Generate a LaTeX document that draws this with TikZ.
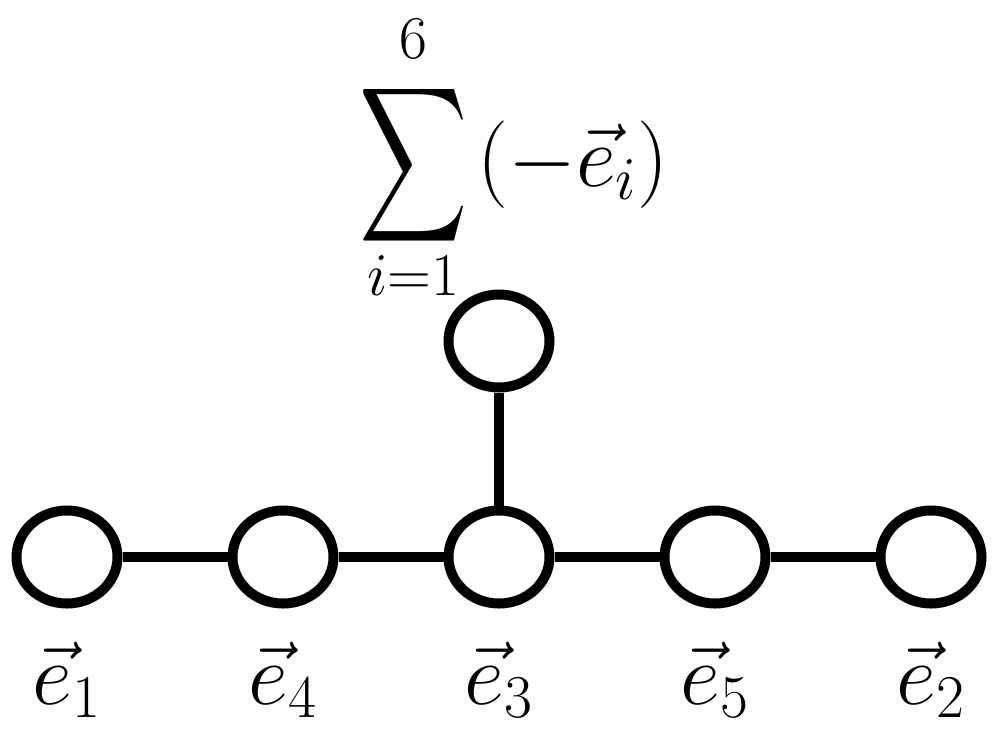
\documentclass[tikz,border=0pt]{standalone}
\usepackage{amsmath, amssymb}
\usepackage{graphicx}
\usetikzlibrary{positioning, shapes.geometric}

\begin{document}
\begin{tikzpicture}[
  node distance=1.05cm,
  dot/.style={
    ellipse,
    draw,
    line width=0.1cm,
    minimum width=1.01cm,
    minimum height=0.93cm,
    inner sep=0pt
  },
  bond/.style={line width=0.1cm},
  lab/.style={font=\fontsize{23}{27}\selectfont, inner sep=0pt},
  lim/.style={font=\fontsize{16}{19}\selectfont, inner sep=0pt}
]
\useasboundingbox (0,0) rectangle (10.05,7.41);

% Nodes (left to right)
\node[dot] (e1) at (0.67,1.84) {};
\node[dot, right=of e1] (e4) {};
\node[dot, right=of e4] (e3) {};
\node[dot, right=of e3] (e5) {};
\node[dot, right=of e5] (e2) {};
\node[dot, above=1.13cm of e3] (top) {};

% Bonds
\draw[bond] (e1) -- (e4);
\draw[bond] (e4) -- (e3);
\draw[bond] (e3) -- (e5);
\draw[bond] (e5) -- (e2);
\draw[bond] (e3) -- (top);

% Labels below
\node[lab, below=0.33cm of e1] (l1) {$\vec{e}_1$};
\node[lab, below=0.33cm of e4] (l4) {$\vec{e}_4$};
\node[lab, below=0.33cm of e3] (l3) {$\vec{e}_3$};
\node[lab, below=0.33cm of e5] (l5) {$\vec{e}_5$};
\node[lab, below=0.33cm of e2] (l2) {$\vec{e}_2$};

% Sum above the extra node
\node[inner sep=0pt, font=\fontsize{22}{26}\selectfont] (sig) at (4.135,5.76)
  {\scalebox{0.97}[1.4]{$\displaystyle\sum$}};
\node[lim, above=0.18cm of sig] (upper) {$6$};
\node[lim, below=0.03cm of sig] (lower) {$i{=}1$};
\node[inner sep=0pt, font=\fontsize{24}{28}\selectfont, right=0.08cm of sig] (term) {$(-\vec{e}_i)$};

\end{tikzpicture}
\end{document}
